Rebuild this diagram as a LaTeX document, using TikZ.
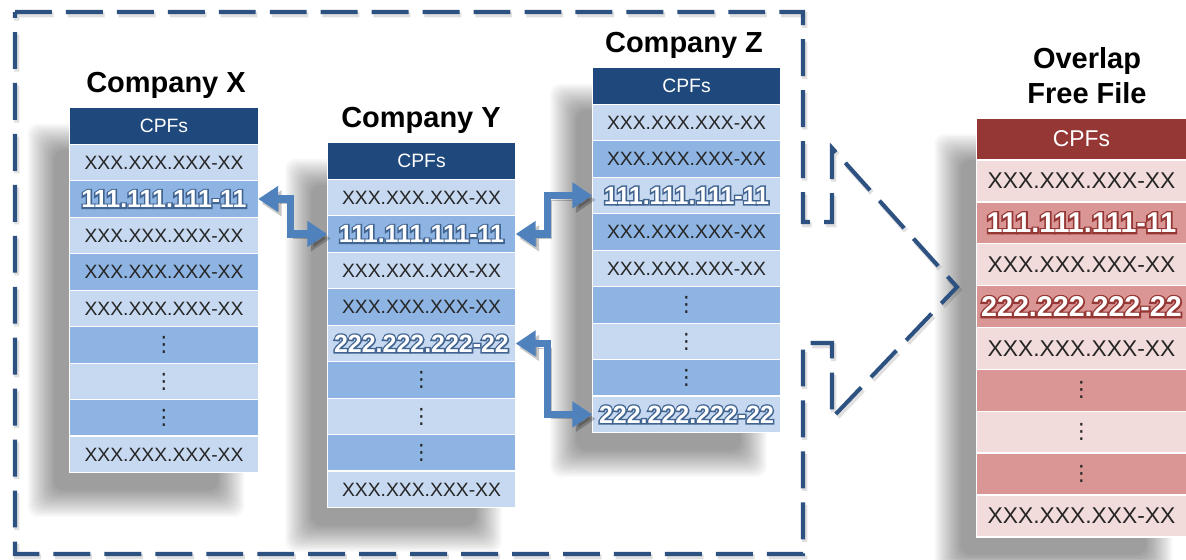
\documentclass[tikz,border=0pt]{standalone}
\usepackage{fontspec}
\setmainfont{Liberation Sans}
\newfontfamily\dotsfont{DejaVu Sans}
\usetikzlibrary{positioning,backgrounds,arrows.meta}

\definecolor{hdblue}{RGB}{31,73,125}
\definecolor{ltblue}{RGB}{198,217,241}
\definecolor{mdblue}{RGB}{141,180,226}
\definecolor{hdred}{RGB}{149,55,53}
\definecolor{ltred}{RGB}{242,220,219}
\definecolor{mdred}{RGB}{217,150,148}
\definecolor{linkblue}{RGB}{79,129,189}
\definecolor{framecol}{RGB}{45,82,130}

\newcommand{\xx}{XXX.XXX.XXX-XX}
\newcommand{\vd}{{\dotsfont\fontsize{12}{12}\selectfont ⋮}}
% white digits on a thick coloured copy of themselves
\newcommand{\glow}[2]{%
  \leavevmode
  \rlap{\addfontfeature{FakeBold=12}\color{#1}#2}%
  \textcolor{white}{#2}}

\tikzset{>={Triangle[length=.4cm,width=.5cm]}}
\tikzset{
  cell/.style={minimum width=3.77cm, minimum height=.73cm, inner sep=0pt, outer sep=0pt,
    draw=white, line width=.8pt, text=black!85, font=\fontsize{11}{12}\selectfont},
  rcell/.style={cell, minimum width=4.2cm, minimum height=.838cm,
    font=\fontsize{13}{14}\selectfont},
  hd/.style={fill=hdblue, text=white},
  lt/.style={fill=ltblue},
  md/.style={fill=mdblue},
  rhd/.style={fill=hdred, text=white},
  rlt/.style={fill=ltred},
  rmd/.style={fill=mdred},
  hl/.style={font=\bfseries\fontsize{14.2}{15}\selectfont},
  rhl/.style={font=\bfseries\fontsize{16.3}{17}\selectfont},
  title/.style={font=\bfseries\fontsize{16.5}{19.8}\selectfont, align=center},
  link/.style={<->, line width=4pt, draw=linkblue,
    preaction={draw=black, opacity=.22, transform canvas={xshift=2pt,yshift=-2.5pt}}},
  frameline/.style={draw=framecol, line width=2.3pt, dash pattern=on 21pt off 8pt,
    preaction={draw=black, opacity=.12, line width=3pt, dash pattern=on 21pt off 8pt,
      transform canvas={xshift=1pt,yshift=-1.5pt}}},
  tabshade/.style={fill=black, opacity=.03, rounded corners=6pt},
}

\begin{document}
\begin{tikzpicture}[x=0.02cm,y=-0.02cm]
\useasboundingbox (0,0) rectangle (1186,559);

% dashed frame with the arrow head
\draw[frameline] (15,12) -- (803,12) -- (803,222) -- (832,222) -- (832,148) -- (957,287)
  -- (832,418) -- (832,343) -- (803,343) -- (803,554) -- (15,554) -- cycle;

% titles
\node[title, anchor=base] (tX) at (166,92) {Company X};
\node[title, anchor=base] (tY) at (421,127) {Company Y};
\node[title, anchor=base] (tZ) at (684,52) {Company Z};
\node[title] (tO) at (1087,76) {Overlap\\Free File};

\begin{scope}[every node/.style={cell}]
\node[hd] (X0) at (164,126) {CPFs};
\node[lt,below=0pt of X0] (X1) {\xx};
\node[md,hl,below=0pt of X1] (X2) {\glow{hdblue!85}{111.111.111-11}};
\node[lt,below=0pt of X2] (X3) {\xx};
\node[md,below=0pt of X3] (X4) {\xx};
\node[lt,below=0pt of X4] (X5) {\xx};
\node[md,below=0pt of X5] (X6) {\vd};
\node[lt,below=0pt of X6] (X7) {\vd};
\node[md,below=0pt of X7] (X8) {\vd};
\node[lt,below=0pt of X8] (X9) {\xx};

\node[hd] (Y0) at (421.5,161) {CPFs};
\node[lt,below=0pt of Y0] (Y1) {\xx};
\node[md,hl,below=0pt of Y1] (Y2) {\glow{hdblue!85}{111.111.111-11}};
\node[lt,below=0pt of Y2] (Y3) {\xx};
\node[md,below=0pt of Y3] (Y4) {\xx};
\node[lt,hl,below=0pt of Y4] (Y5) {\glow{hdblue!85}{222.222.222-22}};
\node[md,below=0pt of Y5] (Y6) {\vd};
\node[lt,below=0pt of Y6] (Y7) {\vd};
\node[md,below=0pt of Y7] (Y8) {\vd};
\node[lt,below=0pt of Y8] (Y9) {\xx};

\node[hd] (Z0) at (686.5,86) {CPFs};
\node[lt,below=0pt of Z0] (Z1) {\xx};
\node[md,below=0pt of Z1] (Z2) {\xx};
\node[lt,hl,below=0pt of Z2] (Z3) {\glow{hdblue!85}{111.111.111-11}};
\node[md,below=0pt of Z3] (Z4) {\xx};
\node[lt,below=0pt of Z4] (Z5) {\xx};
\node[md,below=0pt of Z5] (Z6) {\vd};
\node[lt,below=0pt of Z6] (Z7) {\vd};
\node[md,below=0pt of Z7] (Z8) {\vd};
\node[lt,hl,below=0pt of Z8] (Z9) {\glow{hdblue!85}{222.222.222-22}};
\end{scope}

\begin{scope}[every node/.style={rcell}]
\node[rhd] (O0) at (1081.5,139) {CPFs};
\node[rlt,below=0pt of O0] (O1) {\xx};
\node[rmd,rhl,below=0pt of O1] (O2) {\glow{hdred}{111.111.111-11}};
\node[rlt,below=0pt of O2] (O3) {\xx};
\node[rmd,rhl,below=0pt of O3] (O4) {\glow{hdred}{222.222.222-22}};
\node[rlt,below=0pt of O4] (O5) {\xx};
\node[rmd,below=0pt of O5] (O6) {\vd};
\node[rlt,below=0pt of O6] (O7) {\vd};
\node[rmd,below=0pt of O7] (O8) {\vd};
\node[rlt,below=0pt of O8] (O9) {\xx};
\end{scope}

% matching entries
\draw[link] (X2.east) -- ([xshift=.64cm]X2.east) |- (Y2.west);
\draw[link] (Y2.east) -- ([xshift=.64cm]Y2.east) |- (Z3.west);
\draw[link] (Y5.east) -- ([xshift=.64cm]Y5.east) |- (Z9.west);

% soft shadows behind the tables
\begin{scope}[on background layer]
\fill[white] (0,0) rectangle (1186,559);
\foreach \t in {X,Y,Z,O}
  \foreach \k in {0,...,13}
    \fill[tabshade] ([shift={(-42+2*\k,16+2*\k)}]\t0.north west)
      rectangle ([shift={(-14-2*\k,44-2*\k)}]\t9.south east);
\end{scope}
\end{tikzpicture}
\end{document}
